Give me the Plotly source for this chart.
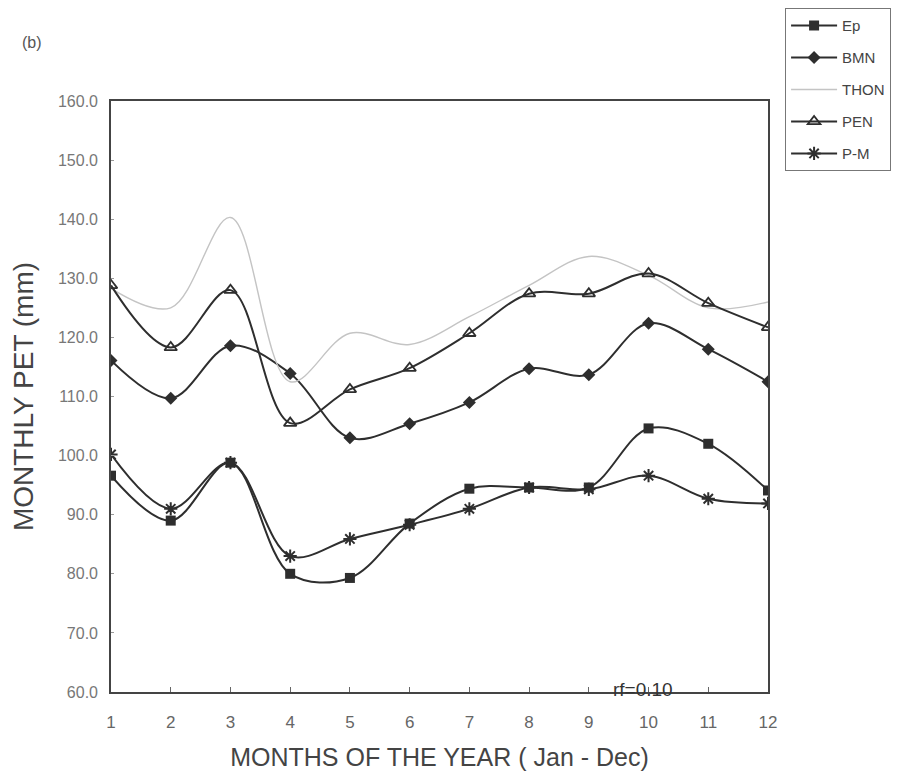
import plotly.graph_objects as go

months = [1, 2, 3, 4, 5, 6, 7, 8, 9, 10, 11, 12]
ep = [96.6, 89.0, 98.8, 80.0, 79.3, 88.5, 94.4, 94.6, 94.6, 104.6, 102.0, 94.1]
bmn = [116.1, 109.7, 118.6, 113.9, 103.0, 105.4, 109.0, 114.7, 113.7, 122.4, 118.0, 112.5]
thon = [128.3, 125.0, 140.3, 112.5, 120.7, 118.8, 123.5, 128.8, 133.7, 130.5, 125.0, 126.0]
pen = [128.8, 118.3, 128.0, 105.5, 111.2, 114.8, 120.7, 127.4, 127.4, 130.8, 125.8, 121.7]
pm = [100.2, 91.0, 98.8, 83.0, 85.9, 88.3, 91.0, 94.6, 94.3, 96.6, 92.7, 91.9]

y_ticks = [60, 70, 80, 90, 100, 110, 120, 130, 140, 150, 160]

dark = "#2e2e2e"
fig = go.Figure()

def add(name, y, symbol, size, color=dark, width=2, mode="lines+markers", mline=0, mcolor=None):
    fig.add_trace(go.Scatter(
        x=months, y=y, name=name, mode=mode, legendgroup=name,
        line=dict(color=color, width=width, shape="spline", smoothing=1.0),
        marker=dict(symbol=symbol, size=size, color=mcolor or color,
                    line=dict(color=color, width=mline)),
    ))

add("Ep", ep, "square", 10)
add("BMN", bmn, "diamond", 10)
add("THON", thon, "circle", 1, color="#c4c4c4", width=1.4, mode="lines")
add("PEN", pen, "triangle-up-open", 11, mline=1.8)
add("P-M", pm, "asterisk", 11, mline=2)

fig.update_layout(
    width=913, height=777,
    margin=dict(l=103, r=153, t=93, b=93, autoexpand=False),
    paper_bgcolor="white", plot_bgcolor="white",
    font=dict(family="Liberation Sans, Arial, sans-serif", color="#555"),
    showlegend=True,
    legend=dict(
        x=1.026, y=1.157, xanchor="left", yanchor="top",
        bordercolor="#777", borderwidth=1, bgcolor="white",
        font=dict(size=15, color="#444"), tracegroupgap=9.5,
        itemwidth=46,
    ),
    xaxis=dict(
        range=[1, 12], tickvals=months, ticktext=[str(m) for m in months],
        showgrid=False, zeroline=False, showline=True, mirror=True, automargin=False,
        linecolor="#444", linewidth=1.6, ticks="inside", ticklen=5, tickcolor="#666",
        tickfont=dict(size=17, color="#666"), ticklabelstandoff=14,
        title=dict(text="MONTHS OF THE YEAR ( Jan - Dec)", font=dict(size=25, color="#444"), standoff=17),
    ),
    yaxis=dict(
        range=[60, 160], tickvals=y_ticks, ticktext=[f"{v:.1f}" for v in y_ticks],
        showgrid=False, zeroline=False, showline=True, mirror=True, automargin=False,
        linecolor="#444", linewidth=1.6, ticks="inside", ticklen=3, tickcolor="#999",
        tickfont=dict(size=16, color="#777"), ticklabelstandoff=8,
        title=dict(text="MONTHLY PET (mm)", font=dict(size=28, color="#444"), standoff=17),
    ),
    annotations=[
        dict(text="(b)", xref="paper", yref="paper", x=-0.138, y=1.117,
             showarrow=False, font=dict(size=16, color="#555")),
        dict(text="rf=0.10", xref="x", yref="y", x=9.9, y=60.4,
             showarrow=False, font=dict(size=19, color="#333")),
    ],
)

fig.write_html("out.html")
